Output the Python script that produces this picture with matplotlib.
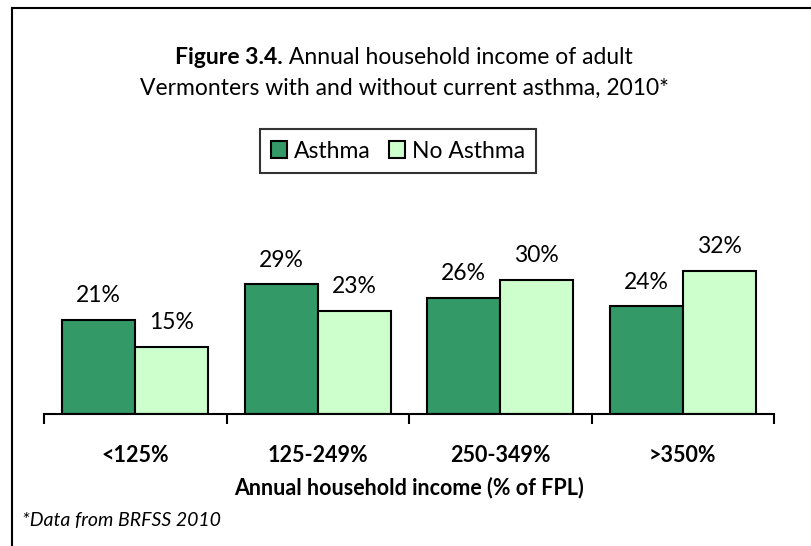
import matplotlib
matplotlib.use("Agg")
import matplotlib.pyplot as plt
from matplotlib.lines import Line2D
import numpy as np

# data
categories = ["<125%", "125-249%", "250-349%", ">350%"]
asthma = [21, 29, 26, 24]
no_asthma = [15, 23, 30, 32]
series_names = ["Asthma", "No Asthma"]

plt.rcParams['font.family'] = ['Lato', 'DejaVu Sans']

W, H = 812, 546
fig = plt.figure(figsize=(W / 100, H / 100), dpi=100)

# plot area in pixels: x 44..774, baseline at y=414, 4.48 px per percent
ymax = 40
ax = fig.add_axes([44 / W, (H - 414) / H, 730 / W, ymax * 4.48 / H])

x = np.arange(len(categories))
w = 0.4
b1 = ax.bar(x - w / 2, asthma, w, color='#339966', edgecolor='black', linewidth=1.5, label=series_names[0])
b2 = ax.bar(x + w / 2, no_asthma, w, color='#CCFFCC', edgecolor='black', linewidth=1.5, label=series_names[1])

# value labels
for bars, vals in [(b1, asthma), (b2, no_asthma)]:
    for bar, v in zip(bars, vals):
        ax.annotate(f"{v}%", (bar.get_x() + bar.get_width() / 2, v),
                    xytext=(0, 24), textcoords='offset pixels',
                    ha='center', va='center', fontsize=16.5)

ax.set_xlim(-0.5, len(categories) - 0.5)
ax.set_ylim(0, ymax)
for s in ['top', 'right', 'left']:
    ax.spines[s].set_visible(False)
ax.spines['bottom'].set_linewidth(1.5)
ax.set_yticks([])

# tick marks at category boundaries, labels at centres
ax.set_xticks(np.arange(len(categories) + 1) - 0.5)
ax.set_xticklabels([])
ax.tick_params(axis='x', which='major', length=7, width=1.5, direction='out')
ax.set_xticks(x, minor=True)
ax.set_xticklabels(categories, minor=True, fontsize=15.5, fontweight='bold')
ax.tick_params(axis='x', which='minor', length=0, pad=22)

ax.set_xlabel("Annual household income (% of FPL)", fontsize=15.5, fontweight='bold', labelpad=8)

# legend
leg = fig.legend(loc='center', bbox_to_anchor=(398 / W, 1 - 151 / H), ncol=2,
                 fontsize=16.5, frameon=True, fancybox=False, edgecolor='black',
                 handlelength=0.7, handleheight=0.7, handletextpad=0.3,
                 columnspacing=0.8, borderpad=0.5)
leg.get_frame().set_linewidth(1.5)

# title, first part bold
fig.canvas.draw()
r = fig.canvas.get_renderer()
y1 = 1 - 58 / H
t1 = fig.text(0, y1, "Figure 3.4.", fontsize=16.5, fontweight='bold', va='center')
t2 = fig.text(0, y1, " Annual household income of adult", fontsize=16.5, va='center')
w1 = t1.get_window_extent(r).width
w2 = t2.get_window_extent(r).width
x0 = 404 - (w1 + w2) / 2
t1.set_x(x0 / W)
t2.set_x((x0 + w1) / W)
fig.text(404 / W, 1 - 88 / H, "Vermonters with and without current asthma, 2010*",
         fontsize=16.5, ha='center', va='center')

# footnote
fig.text(22 / W, 1 - 520 / H, "*Data from BRFSS 2010", fontsize=14, style='italic', va='center')

# outer frame (left and top edges)
fig.add_artist(Line2D([12 / W, 12 / W], [0, 1 - 8 / H], color='black', linewidth=1.5))
fig.add_artist(Line2D([12 / W, 1], [1 - 8 / H, 1 - 8 / H], color='black', linewidth=1.5))

fig.savefig("out.png", dpi=100)
